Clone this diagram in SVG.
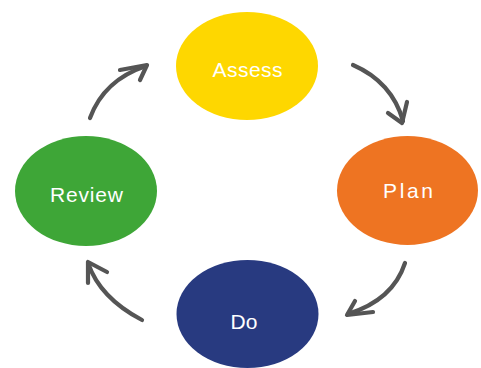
<svg xmlns="http://www.w3.org/2000/svg" width="481" height="368" viewBox="0 0 481 368">
  <style>
    .lbl { font-family: "Liberation Sans", "DejaVu Sans", sans-serif; fill: #ffffff; text-anchor: middle; font-size: 21px; }
    .arr { fill: none; stroke: #555555; stroke-width: 4.2; stroke-linecap: round; stroke-linejoin: round; }
  </style>
  <rect width="481" height="368" fill="#ffffff"/>
  <g id="assess">
    <ellipse cx="247" cy="66" rx="71" ry="54" fill="#FED700"/>
    <text class="lbl" x="247.5" y="77" textLength="70" lengthAdjust="spacing">Assess</text>
  </g>
  <g id="plan">
    <ellipse cx="407.5" cy="190.5" rx="70.5" ry="54.5" fill="#EE7422"/>
    <text class="lbl" x="408" y="198" textLength="50" lengthAdjust="spacing">Plan</text>
  </g>
  <g id="do">
    <ellipse cx="247.5" cy="314" rx="71" ry="54" fill="#283A80"/>
    <text class="lbl" x="244" y="329" style="font-size:21px">Do</text>
  </g>
  <g id="review">
    <ellipse cx="86" cy="191" rx="71" ry="55" fill="#3EA637"/>
    <text class="lbl" x="86.5" y="202" textLength="73" lengthAdjust="spacing">Review</text>
  </g>
  <g id="connectors">
    <path class="arr" d="M353,65 Q392,82 403,121"/>
    <path class="arr" d="M388,113 L402,123 L407,102"/>
    <path class="arr" d="M405,263 Q393,300 348,314"/>
    <path class="arr" d="M355,301 L347,315 L373,312"/>
    <path class="arr" d="M90,118 Q104,80 146,66"/>
    <path class="arr" d="M120,70 L147,65 L140,80"/>
    <path class="arr" d="M142,320 Q100,298 88,263"/>
    <path class="arr" d="M107,272 L88,262 L88,283"/>
  </g>
</svg>
